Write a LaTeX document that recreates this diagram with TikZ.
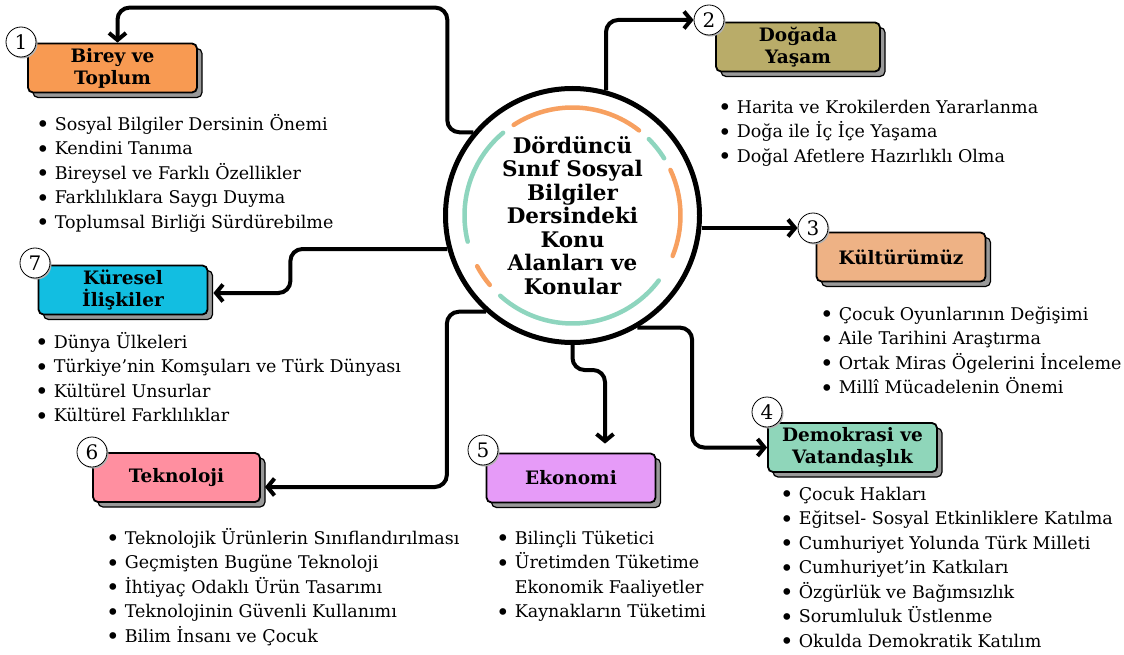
\documentclass[tikz,border=0pt]{standalone}
\usepackage{fontspec}
\setmainfont{DejaVu Serif}
\usetikzlibrary{arrows.meta,positioning,shadows}

\definecolor{turuncu}{RGB}{247,160,96}
\definecolor{yesil}{RGB}{142,213,190}
\definecolor{renkbirey}{RGB}{248,154,82}
\definecolor{renkdoga}{RGB}{185,172,105}
\definecolor{renkkultur}{RGB}{238,178,133}
\definecolor{renkdemo}{RGB}{143,214,186}
\definecolor{renkeko}{RGB}{230,155,248}
\definecolor{renktekno}{RGB}{255,143,160}
\definecolor{renkkuresel}{RGB}{18,190,225}

\newcommand{\madde}{\raisebox{-2.5pt}{\fontsize{23}{23}\selectfont\textbullet}}
\newcommand{\konular}[1]{{\fontsize{17.5}{24.5}\selectfont
  \begin{tabular}{@{}l@{\hspace{5pt}}l@{}}#1\end{tabular}}}

\begin{document}
\begin{tikzpicture}[x=1pt,y=-1pt,
  konu/.style={draw,line width=1.8pt,rounded corners=5pt,align=center,
    minimum width=169pt,minimum height=49pt,inner sep=2pt,
    font=\bfseries\fontsize{18.5}{22}\selectfont,
    copy shadow={shadow xshift=5pt,shadow yshift=-5pt,fill=black!40,draw=black,line width=1.2pt}},
  sira/.style={circle,draw,line width=0.8pt,fill=white,minimum size=30pt,inner sep=0pt,
    font=\fontsize{20}{20}\selectfont,
    copy shadow={shadow xshift=1.5pt,shadow yshift=-1.5pt,fill=black!30,draw=none}},
  liste/.style={anchor=north west,inner sep=0pt},
  flow/.style={-{Straight Barb[length=7pt,width=17pt]},line width=4pt,rounded corners=12pt},
  halka/.style={line width=4.5pt,line cap=round}]
\useasboundingbox (0,0) rectangle (1124,655);

% merkez
\node[circle,draw,line width=5pt,minimum size=254pt,inner sep=0pt,align=center,
  font=\bfseries\fontsize{21.5}{23.5}\selectfont] (hub) at (572.5,215.5)
  {Dördüncü\\Sınıf Sosyal\\Bilgiler\\Dersindeki\\Konu\\Alanları ve\\Konular};
\foreach \a/\b/\c in {52/123/turuncu,130/194/yesil,208/220/turuncu,
    228/323/yesil,338/385/turuncu,392/405/yesil}
  \draw[halka,\c] ([shift={(\a:108pt)}]hub.center) arc[start angle=\a,end angle=\b,radius=108pt];

% konu alanlari
\node[konu,fill=renkbirey] (birey) at (112.5,68) {Birey ve\\Toplum};
\node[konu,fill=renkdoga,minimum width=164pt] (doga) at (798,47) {Doğada\\Yaşam};
\node[konu,fill=renkkultur] (kultur) at (901,257) {Kültürümüz};
\node[konu,fill=renkdemo] (demokrasi) at (852.5,447.5) {Demokrasi ve\\Vatandaşlık};
\node[konu,fill=renkeko] (ekonomi) at (571,478) {Ekonomi};
\node[konu,fill=renktekno,minimum width=167pt] (teknoloji) at (176.5,477.5) {Teknoloji};
\node[konu,fill=renkkuresel] (kuresel) at (123,290) {Küresel\\İlişkiler};

% numaralar
\node[sira] (n1) at (21,42) {1};
\node[sira] (n2) at (709,20) {2};
\node[sira] (n3) at (813,228) {3};
\node[sira] (n4) at (767,412) {4};
\node[sira] (n5) at (483,450) {5};
\node[sira] (n6) at (92,452) {6};
\node[sira] (n7) at (35,263) {7};

% oklar
\draw[flow] (hub.140) -- ++(-26,0) |- ([xshift=5pt,yshift=35pt]birey.north) -- ([xshift=5pt]birey.north);
\draw[flow] (hub.75) |- (n2.west);
\draw[flow] (hub.east |- n3.west) -- (n3.west);
\draw[flow] (hub.-60) -| ([xshift=-75pt]demokrasi.west) -- (demokrasi.west);
\draw[flow] (hub.south) -- ++(0,25) -| ([xshift=34pt,yshift=9pt]ekonomi.north);
\draw[flow] (hub.-132) -- ++(-39,0) |- ([xshift=4pt,yshift=-9.5pt]teknoloji.east);
\draw[flow] (hub.195) -| ([xshift=82pt,yshift=-3pt]kuresel.east) -- ([xshift=5pt,yshift=-3pt]kuresel.east);

% konular
\node[liste] (l1) at (36,113) {\konular{%
  \madde & Sosyal Bilgiler Dersinin Önemi\\
  \madde & Kendini Tanıma\\
  \madde & Bireysel ve Farklı Özellikler\\
  \madde & Farklılıklara Saygı Duyma\\
  \madde & Toplumsal Birliği Sürdürebilme}};
\node[liste] (l2) at (718,96) {\konular{%
  \madde & Harita ve Krokilerden Yararlanma\\
  \madde & Doğa ile İç İçe Yaşama\\
  \madde & Doğal Afetlere Hazırlıklı Olma}};
\node[liste] (l3) at (820,303) {\konular{%
  \madde & Çocuk Oyunlarının Değişimi\\
  \madde & Aile Tarihini Araştırma\\
  \madde & Ortak Miras Ögelerini İnceleme\\
  \madde & Millî Mücadelenin Önemi}};
\node[liste] (l4) at (780,483) {\konular{%
  \madde & Çocuk Hakları\\
  \madde & Eğitsel- Sosyal Etkinliklere Katılma\\
  \madde & Cumhuriyet Yolunda Türk Milleti\\
  \madde & Cumhuriyet’in Katkıları\\
  \madde & Özgürlük ve Bağımsızlık\\
  \madde & Sorumluluk Üstlenme\\
  \madde & Okulda Demokratik Katılım}};
\node[liste] (l5) at (496,527) {\konular{%
  \madde & Bilinçli Tüketici\\
  \madde & Üretimden Tüketime\\
         & Ekonomik Faaliyetler\\
  \madde & Kaynakların Tüketimi}};
\node[liste] (l6) at (106,527) {\konular{%
  \madde & Teknolojik Ürünlerin Sınıflandırılması\\
  \madde & Geçmişten Bugüne Teknoloji\\
  \madde & İhtiyaç Odaklı Ürün Tasarımı\\
  \madde & Teknolojinin Güvenli Kullanımı\\
  \madde & Bilim İnsanı ve Çocuk}};
\node[liste] (l7) at (35,331) {\konular{%
  \madde & Dünya Ülkeleri\\
  \madde & Türkiye’nin Komşuları ve Türk Dünyası\\
  \madde & Kültürel Unsurlar\\
  \madde & Kültürel Farklılıklar}};
\end{tikzpicture}
\end{document}
